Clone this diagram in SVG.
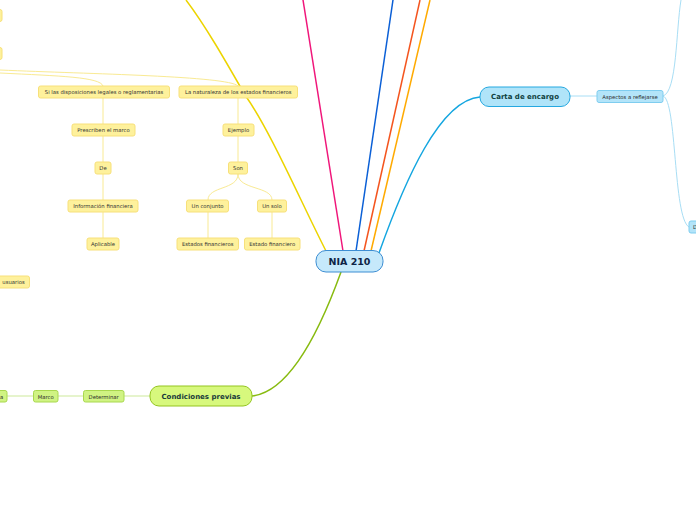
<svg xmlns="http://www.w3.org/2000/svg" width="696" height="520" viewBox="0 0 696 520">
<style>
text{font-family:"DejaVu Sans","Verdana",sans-serif;text-anchor:middle;dominant-baseline:central}
.y rect{fill:#fef19c;stroke:#f7e07a;stroke-width:1}
.y text{font-size:5.3px;fill:#333}
.g rect{fill:#d0f383;stroke:#a9d84e;stroke-width:1}
.g text{font-size:5.3px;fill:#2a2a2a}
.b rect{fill:#b3e4f9;stroke:#7fcdef;stroke-width:1}
.b text{font-size:5.3px;fill:#2a2a2a}
.main text{font-weight:bold;font-size:7px}
.c path{fill:none}
.ly{stroke:#f9ea93;stroke-width:1}
.lg{stroke:#cde99a;stroke-width:1}
.lb{stroke:#a8def5;stroke-width:1}
</style>
<rect width="696" height="520" fill="#fff"/>
<g class="c" id="connectors">
<path d="M343,251 L303,0" stroke="#f0167a" stroke-width="1.5"/>
<path d="M356,251 L393,0" stroke="#0a5fd6" stroke-width="1.5"/>
<path d="M364,251 L420,0" stroke="#f4541e" stroke-width="1.5"/>
<path d="M371,251 L430,0" stroke="#ffaa00" stroke-width="1.5"/>
<path d="M326,251 C300,200 270,130 245,95 C225,60 205,25 186,0" stroke="#ecd400" stroke-width="1.5"/>
<path d="M379,253 C405,180 440,100 480,97" stroke="#14a6e0" stroke-width="1.5"/>
<path d="M341,272 C320,330 290,392 252,396" stroke="#88bb10" stroke-width="1.5"/>
<path class="lb" d="M570,96 L597,96"/>
<path class="lb" d="M663,96 C677,92 676,30 681,0"/>
<path class="lb" d="M663,96 C677,100 673,218 689,227"/>
<path class="ly" d="M0,70 C90,74 228,76 238,86"/>
<path class="ly" d="M0,73 C60,76 100,77 103,86"/>
<path class="ly" d="M103,98 V124 M103,136 V162 M103,174 V200 M103,212 V238"/>
<path class="ly" d="M238,98 V124 M238,136 V162"/>
<path class="ly" d="M238,174 C238,190 208,186 208,200 M238,174 C238,190 272,186 272,200"/>
<path class="ly" d="M208,212 V238 M272,212 V238"/>
<path class="lg" d="M7,396 H33 M58,396 H83 M124,396 H150"/>
</g>
<g id="nia210"><rect x="316" y="250.5" width="67" height="21.5" rx="10" fill="#c6e9fb" stroke="#3d8ed3" stroke-width="1"/><text x="349.5" y="261.5" font-size="9.5" font-weight="bold" fill="#0e2446">NIA 210</text></g>
<g id="carta" class="main"><rect x="480" y="87" width="90" height="19.5" rx="9" fill="#b0e4f9" stroke="#25a8e0" stroke-width="1"/><text x="525" y="97" fill="#0f4040">Carta de encargo</text></g>
<g id="condiciones" class="main"><rect x="150" y="386" width="102" height="20" rx="9" fill="#d7f87d" stroke="#94c520" stroke-width="1"/><text x="201" y="396.5" fill="#183a3a">Condiciones previas</text></g>
<g id="aspectos" class="b"><rect x="597" y="90.5" width="66" height="12" rx="2"/><text x="630" y="96.8">Aspectos a reflejarse</text></g>
<g id="edge-right" class="b"><rect x="689" y="221" width="20" height="12" rx="2"/><text x="695" y="227.3">D</text></g>
<g id="determinar" class="g"><rect x="83.5" y="390.5" width="40.5" height="11.5" rx="2"/><text x="103.7" y="396.5">Determinar</text></g>
<g id="marco" class="g"><rect x="33.5" y="390.5" width="24.5" height="11.5" rx="2"/><text x="45.7" y="396.5">Marco</text></g>
<g id="edge-green" class="g"><rect x="-20" y="390.5" width="27" height="11.5" rx="2"/><text x="1.5" y="396.5">a</text></g>
<g id="si-las" class="y"><rect x="38.5" y="86" width="131" height="12" rx="2"/><text x="104" y="92.3">Si las disposiciones legales o reglamentarias</text></g>
<g id="naturaleza" class="y"><rect x="179" y="86" width="118.5" height="12" rx="2"/><text x="238.3" y="92.3">La naturaleza de los estados financieros</text></g>
<g id="prescriben" class="y"><rect x="72" y="124" width="63" height="12" rx="2"/><text x="103.5" y="130.3">Prescriben el marco</text></g>
<g id="ejemplo" class="y"><rect x="223" y="124" width="31" height="12" rx="2"/><text x="238.5" y="130.3">Ejemplo</text></g>
<g id="de" class="y"><rect x="95" y="162" width="16" height="12" rx="2"/><text x="103" y="168.3">De</text></g>
<g id="son" class="y"><rect x="228.5" y="162" width="19" height="12" rx="2"/><text x="238" y="168.3">Son</text></g>
<g id="informacion" class="y"><rect x="68" y="200" width="70" height="12" rx="2"/><text x="103" y="206.3">Información financiera</text></g>
<g id="un-conjunto" class="y"><rect x="186.5" y="200" width="42" height="12" rx="2"/><text x="207.5" y="206.3">Un conjunto</text></g>
<g id="un-solo" class="y"><rect x="257.5" y="200" width="29" height="12" rx="2"/><text x="272" y="206.3">Un solo</text></g>
<g id="aplicable" class="y"><rect x="87" y="238" width="32" height="12" rx="2"/><text x="103" y="244.3">Aplicable</text></g>
<g id="estados-fin" class="y"><rect x="177" y="238" width="61.5" height="12" rx="2"/><text x="207.7" y="244.3">Estados financieros</text></g>
<g id="estado-fin" class="y"><rect x="244.5" y="238" width="55.5" height="12" rx="2"/><text x="272.2" y="244.3">Estado financiero</text></g>
<g id="usuarios" class="y"><rect x="-20" y="276" width="49.5" height="12" rx="2"/><text x="13.5" y="282.3">usuarios</text></g>
<g id="edge-y1" class="y"><rect x="-20" y="9.5" width="22" height="12" rx="2"/></g>
<g id="edge-y2" class="y"><rect x="-20" y="47.5" width="22" height="12" rx="2"/></g>
</svg>
